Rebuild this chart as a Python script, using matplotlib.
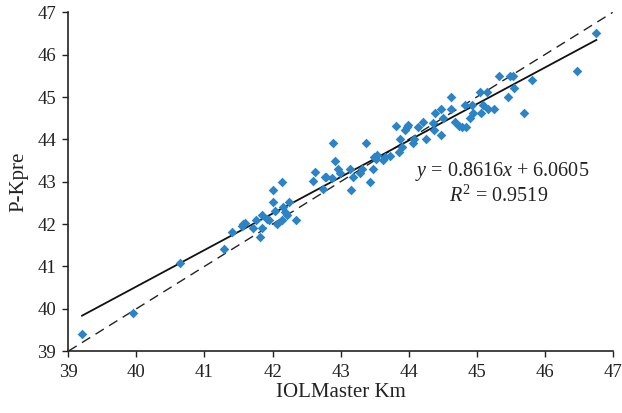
import matplotlib
matplotlib.use("Agg")
import matplotlib.pyplot as plt
import numpy as np

# Data (IOLMaster Km vs P-Kpre)
iolmaster_km = [
    39.20, 39.95, 40.64, 41.29, 41.41, 41.55, 41.57, 41.60, 41.71, 41.75,
    41.82, 41.85, 41.85, 41.92, 41.95, 42.00, 42.01, 42.03, 42.06, 42.14,
    42.16, 42.14, 42.19, 42.21, 42.24, 42.35, 42.60, 42.62, 42.77, 42.79,
    42.74, 42.87, 42.89, 42.92, 42.96, 42.99, 43.14, 43.15, 43.19, 43.28,
    43.31, 43.38, 43.43, 43.47, 43.49, 43.52, 43.54, 43.62, 43.65, 43.72,
    43.81, 43.86, 43.87, 43.90, 43.95, 43.97, 43.99, 44.06, 44.08, 44.14,
    44.21, 44.25, 44.36, 44.39, 44.37, 44.47, 44.47, 44.51, 44.62, 44.63,
    44.68, 44.74, 44.78, 44.83, 44.85, 44.91, 44.94, 44.93, 45.05, 45.07,
    45.09, 45.17, 45.16, 45.25, 45.33, 45.46, 45.49, 45.53, 45.55, 45.70,
    45.82, 46.47, 46.76,
]
p_kpre = [
    39.40, 39.90, 41.09, 41.40, 41.81, 41.95, 42.00, 42.02, 41.90, 42.10,
    41.70, 41.90, 42.21, 42.11, 42.10, 42.51, 42.81, 42.32, 42.00, 43.00,
    42.41, 42.10, 42.29, 42.21, 42.51, 42.10, 43.02, 43.22, 43.10, 43.12,
    42.82, 43.08, 43.91, 43.50, 43.30, 43.20, 43.30, 42.81, 43.12, 43.20,
    43.30, 43.91, 43.00, 43.30, 43.59, 43.53, 43.63, 43.52, 43.59, 43.61,
    44.32, 43.71, 44.00, 43.83, 44.22, 44.30, 44.34, 43.91, 44.00, 44.30,
    44.40, 44.00, 44.38, 44.62, 44.22, 44.71, 44.10, 44.50, 45.00, 44.71,
    44.42, 44.32, 44.30, 44.82, 44.30, 44.50, 44.62, 44.82, 45.11, 44.62,
    44.82, 44.71, 45.11, 44.71, 45.50, 45.00, 45.50, 45.50, 45.21, 44.62,
    45.41, 45.61, 46.51,
]
slope = 0.8616
intercept = 6.0605
r_squared = 0.9519
x_ticks = [39, 40, 41, 42, 43, 44, 45, 46, 47]
y_ticks = [39, 40, 41, 42, 43, 44, 45, 46, 47]

plt.rcParams['font.family'] = ['Liberation Serif', 'DejaVu Serif']
plt.rcParams['mathtext.fontset'] = 'custom'
plt.rcParams['mathtext.rm'] = 'Liberation Serif'
plt.rcParams['mathtext.it'] = 'Liberation Serif:italic'

fig = plt.figure(figsize=(6.22, 4.13), dpi=100)
ax = fig.add_axes([0.110, 0.150, 0.875, 0.820])

ax.scatter(iolmaster_km, p_kpre, marker='D', s=24, color='#2B84C6',
           linewidths=0, zorder=3)

# identity line
ax.plot([39, 47], [39, 47], color='#222222', lw=1.0, ls=(0, (7, 4.5)), zorder=2)
# regression line
xs = np.array([min(iolmaster_km), max(iolmaster_km)])
ax.plot(xs, slope * xs + intercept, color='#111111', lw=1.3, zorder=2)

ax.set_xlim(39, 47)
ax.set_ylim(39, 47)
ax.set_xticks(x_ticks)
ax.set_yticks(y_ticks)
ax.tick_params(labelsize=13.5, length=4, width=1.0, pad=5, colors='#222222')
for s in ['top', 'right']:
    ax.spines[s].set_visible(False)
for s in ['left', 'bottom']:
    ax.spines[s].set_linewidth(1.2)
    ax.spines[s].set_color('#222222')

ax.set_xlabel('IOLMaster Km', fontsize=15, labelpad=2, color='#222222')
ax.set_ylabel('P-Kpre', fontsize=15, labelpad=6, color='#222222')

ax.text(45.37, 43.23, r'$y$ = %.4f$x$ + %.4f' % (slope, intercept),
        fontsize=14.5, ha='center', va='center', color='#222222')
ax.text(45.33, 42.66, r'$R^2$ = %.4f' % r_squared,
        fontsize=14.5, ha='center', va='center', color='#222222')

fig.savefig('out.png', dpi=100)
